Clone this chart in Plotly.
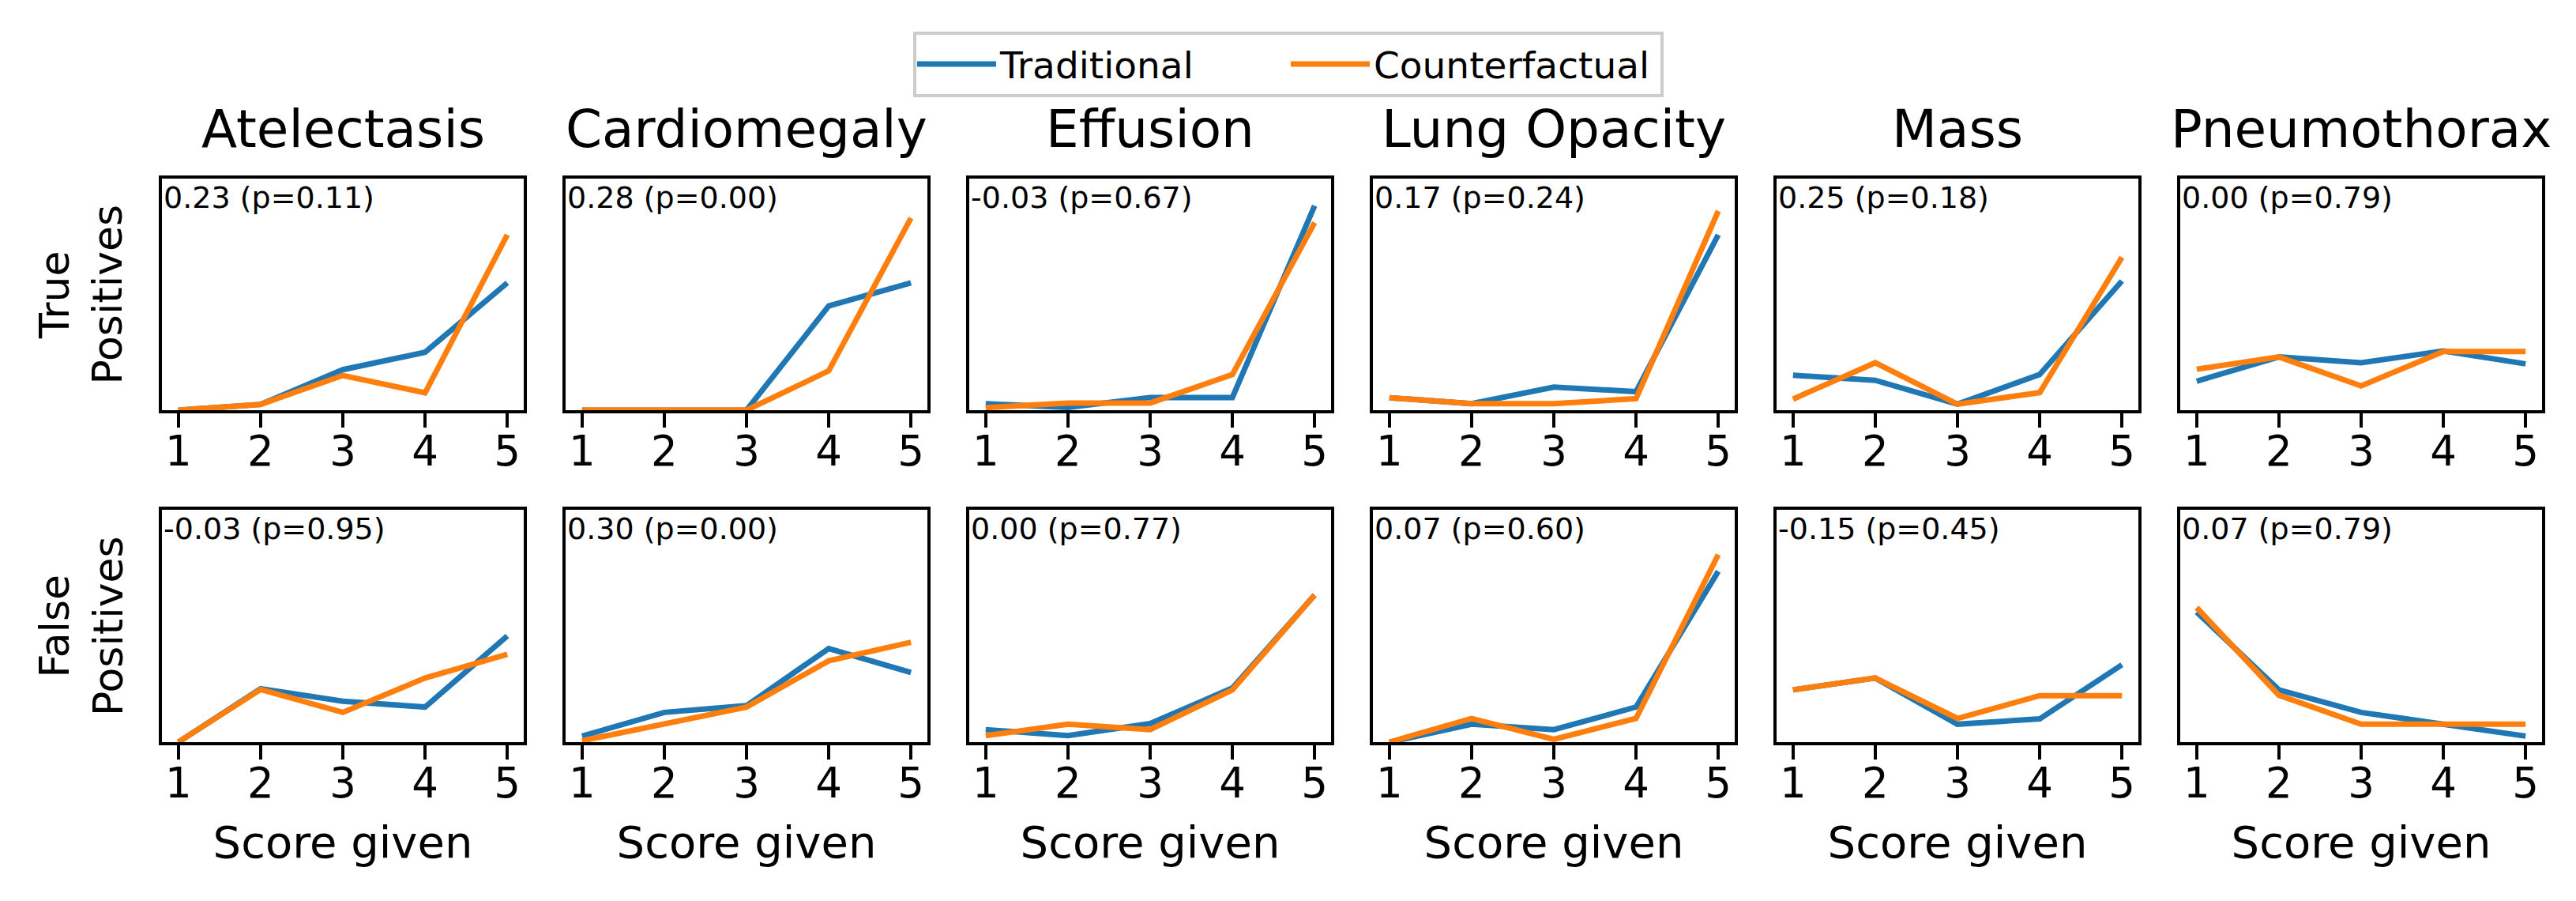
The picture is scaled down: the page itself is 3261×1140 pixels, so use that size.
import plotly.graph_objects as go

W, H = 3261, 1140

conditions = ["Atelectasis", "Cardiomegaly", "Effusion", "Lung Opacity", "Mass", "Pneumothorax"]
scores = [1, 2, 3, 4, 5]
tick_labels = ["1", "2", "3", "4", "5"]
row_labels = ["True<br>Positives", "False<br>Positives"]
series_names = ["Traditional", "Counterfactual"]

tp_traditional = [
    [0.0, 0.025, 0.175, 0.25, 0.55],
    [0.0, 0.0, 0.0, 0.45, 0.55],
    [0.028, 0.012, 0.055, 0.055, 0.883],
    [0.054, 0.028, 0.10, 0.08, 0.757],
    [0.151, 0.129, 0.026, 0.154, 0.558],
    [0.125, 0.23, 0.205, 0.256, 0.20],
]
tp_counterfactual = [
    [0.0, 0.025, 0.15, 0.075, 0.757],
    [0.0, 0.0, 0.0, 0.17, 0.83],
    [0.011, 0.031, 0.031, 0.154, 0.81],
    [0.054, 0.028, 0.028, 0.05, 0.86],
    [0.048, 0.205, 0.026, 0.076, 0.66],
    [0.177, 0.23, 0.105, 0.253, 0.253],
]
fp_traditional = [
    [0.0, 0.23, 0.176, 0.151, 0.457],
    [0.026, 0.128, 0.157, 0.403, 0.30],
    [0.054, 0.028, 0.08, 0.233, 0.633],
    [0.0, 0.077, 0.054, 0.151, 0.735],
    [0.225, 0.276, 0.077, 0.10, 0.333],
    [0.56, 0.225, 0.128, 0.077, 0.026],
]
fp_counterfactual = [
    [0.0, 0.227, 0.128, 0.276, 0.378],
    [0.006, 0.077, 0.151, 0.35, 0.43],
    [0.028, 0.077, 0.054, 0.225, 0.633],
    [0.0, 0.102, 0.012, 0.102, 0.807],
    [0.225, 0.276, 0.102, 0.20, 0.20],
    [0.579, 0.202, 0.077, 0.077, 0.077],
]
tp_stats = ["0.23 (p=0.11)", "0.28 (p=0.00)", "-0.03 (p=0.67)", "0.17 (p=0.24)", "0.25 (p=0.18)", "0.00 (p=0.79)"]
fp_stats = ["-0.03 (p=0.95)", "0.30 (p=0.00)", "0.00 (p=0.77)", "0.07 (p=0.60)", "-0.15 (p=0.45)", "0.07 (p=0.79)"]

colors = ["#1f77b4", "#ff7f0e"]
FONT = "DejaVu Sans"

# layout geometry (pixels)
PANEL_LEFT0, PANEL_W, PANEL_PITCH = 197, 458, 511
ROWS_PX = [(218, 511), (637, 931)]

fig = go.Figure()
layout = dict(
    width=W, height=H,
    margin=dict(l=0, r=0, t=0, b=0),
    paper_bgcolor="white", plot_bgcolor="white",
    font=dict(family=FONT, color="black"),
    showlegend=True,
    legend=dict(
        orientation="h", x=0.4977, xanchor="center", y=1 - 32 / H, yanchor="top",
        font=dict(size=47, family=FONT), bordercolor="#cccccc", borderwidth=4,
        bgcolor="white", itemwidth=100, entrywidth=358, entrywidthmode="pixels",
    ),
)
annotations = []

rows = [(tp_traditional, tp_counterfactual, tp_stats), (fp_traditional, fp_counterfactual, fp_stats)]
for r, (trad, cf, stats) in enumerate(rows):
    top_px, bot_px = ROWS_PX[r]
    ydom = [1 - bot_px / H, 1 - top_px / H]
    for c in range(6):
        n = r * 6 + c + 1
        xs = "" if n == 1 else str(n)
        x0 = PANEL_LEFT0 + PANEL_PITCH * c
        xdom = [x0 / W, (x0 + PANEL_W) / W]
        for s, vals in enumerate([trad[c], cf[c]]):
            fig.add_trace(go.Scatter(
                x=scores, y=vals, mode="lines", name=series_names[s],
                line=dict(color=colors[s], width=7),
                showlegend=(n == 1), legendgroup=series_names[s],
                xaxis="x" + xs, yaxis="y" + xs, hoverinfo="skip",
            ))
        layout["xaxis" + xs] = dict(
            domain=xdom, anchor="y" + xs, range=[0.8, 5.2],
            tickmode="array", tickvals=scores, ticktext=tick_labels,
            ticks="outside", ticklen=18, tickwidth=4, tickcolor="black",
            tickfont=dict(size=53, family=FONT), ticklabelstandoff=-16,
            showline=True, mirror=True, linecolor="black", linewidth=4,
            showgrid=False, zeroline=False, automargin=False,
            title=dict(text="Score given" if r == 1 else "",
                       font=dict(size=56, family=FONT), standoff=27),
        )
        layout["yaxis" + xs] = dict(
            domain=ydom, anchor="x" + xs, range=[0, 1],
            showticklabels=False, ticks="",
            showline=True, mirror=True, linecolor="black", linewidth=4,
            showgrid=False, zeroline=False, automargin=False,
        )
        annotations.append(dict(
            text=stats[c], xref="x%s domain" % xs, yref="y%s domain" % xs,
            x=0.02, y=0.95, xanchor="left", yanchor="top", showarrow=False,
            xshift=-9, yshift=15,
            font=dict(size=38, family=FONT),
        ))
        if r == 0:
            annotations.append(dict(
                text=conditions[c], xref="paper", yref="paper",
                x=(x0 + PANEL_W / 2) / W, y=1 - 156 / H, xanchor="center", yanchor="middle",
                showarrow=False, font=dict(size=66, family=FONT),
            ))
    annotations.append(dict(
        text=row_labels[r], xref="paper", yref="paper",
        x=95 / W, y=1 - (top_px + bot_px) / 2 / H, xanchor="center", yanchor="middle",
        textangle=-90, showarrow=False, font=dict(size=52, family=FONT),
    ))

layout["annotations"] = annotations
fig.update_layout(**layout)
fig.write_html("out.html")
